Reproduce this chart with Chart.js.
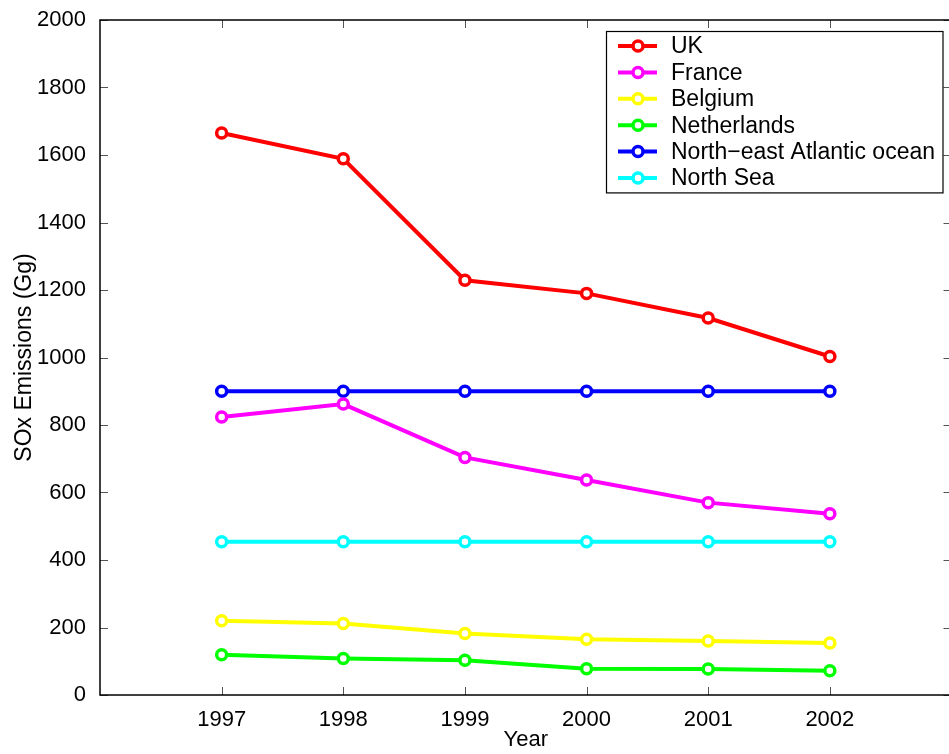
<!DOCTYPE html>
<html>
<head>
<meta charset="utf-8">
<script src="https://cdn.jsdelivr.net/npm/chart.js@4.4.0/dist/chart.umd.min.js"></script>
<style>
  html, body { margin: 0; padding: 0; background: #fff; overflow: hidden; width: 949px; height: 754px; }
  #wrap { width: 960px; height: 754px; position: relative; }
  canvas { display: block; }
</style>
</head>
<body>
<div id="wrap"><canvas id="c" width="960" height="754"></canvas></div>
<script>
// SOx emissions per year (Gg)
const years = [1997, 1998, 1999, 2000, 2001, 2002];
const uk = [1665, 1589, 1229, 1190, 1117, 1003];
const france = [824, 862, 704, 637, 570, 537];
const belgium = [220, 212, 182, 165, 160, 154];
const netherlands = [119, 108, 103, 78, 77, 72];
const neAtlantic = [900, 900, 900, 900, 900, 900];
const northSea = [454, 454, 454, 454, 454, 454];

const seriesNames = ['UK', 'France', 'Belgium', 'Netherlands', 'North\u2212east Atlantic ocean', 'North Sea'];
const seriesColors = ['#ff0000', '#ff00ff', '#ffff00', '#00ff00', '#0000ff', '#00ffff'];
const seriesValues = [uk, france, belgium, netherlands, neAtlantic, northSea];

const xTickValues = [1997, 1998, 1999, 2000, 2001, 2002];
const yTickValues = [0, 200, 400, 600, 800, 1000, 1200, 1400, 1600, 1800, 2000];

const FONT = "'Liberation Sans', Arial, Helvetica, sans-serif";
const TICK_LEN = 8;

// Axes frame with inward tick marks on all four sides
const framePlugin = {
  id: 'frame',
  beforeDatasetsDraw(chart) {
    const { ctx, chartArea: { left, right, top, bottom }, scales: { x, y } } = chart;
    ctx.save();
    ctx.strokeStyle = '#555';
    ctx.lineWidth = 1;
    ctx.beginPath();
    x.ticks.forEach(t => {
      const px = Math.round(x.getPixelForValue(t.value)) + 0.5;
      ctx.moveTo(px, bottom); ctx.lineTo(px, bottom - TICK_LEN);
      ctx.moveTo(px, top); ctx.lineTo(px, top + TICK_LEN);
    });
    y.ticks.forEach(t => {
      const py = Math.round(y.getPixelForValue(t.value)) + 0.5;
      ctx.moveTo(left, py); ctx.lineTo(left + TICK_LEN, py);
      ctx.moveTo(right, py); ctx.lineTo(right - TICK_LEN, py);
    });
    ctx.stroke();
    ctx.strokeStyle = '#000';
    ctx.lineWidth = 1.5;
    ctx.strokeRect(left, top, right - left, bottom - top);
    ctx.restore();
  }
};

// Boxed legend in the upper right of the plot area
const boxLegendPlugin = {
  id: 'boxLegend',
  afterDraw(chart) {
    const { ctx, chartArea: { right, top } } = chart;
    const sets = chart.data.datasets;
    const boxRight = right - 9, boxTop = top + 11;
    const boxLeft = 606, rowH = 26.4;
    const boxBottom = boxTop + rowH * sets.length + 3;
    ctx.save();
    ctx.fillStyle = '#fff';
    ctx.fillRect(boxLeft, boxTop, boxRight - boxLeft, boxBottom - boxTop);
    ctx.strokeStyle = '#000';
    ctx.lineWidth = 1.2;
    ctx.strokeRect(boxLeft + 0.5, boxTop + 0.5, boxRight - boxLeft, boxBottom - boxTop);
    ctx.font = '23px ' + FONT;
    ctx.textBaseline = 'middle';
    ctx.textAlign = 'left';
    sets.forEach((ds, i) => {
      const cy = boxTop + 15 + i * rowH;
      ctx.strokeStyle = ds.borderColor;
      ctx.lineWidth = ds.borderWidth;
      ctx.beginPath();
      ctx.moveTo(618, cy); ctx.lineTo(657, cy);
      ctx.stroke();
      ctx.beginPath();
      ctx.arc(638, cy, ds.pointRadius, 0, Math.PI * 2);
      ctx.fillStyle = '#fff';
      ctx.fill();
      ctx.lineWidth = ds.pointBorderWidth;
      ctx.stroke();
      ctx.fillStyle = '#000';
      ctx.fillText(ds.label, 671, cy + 1);
    });
    ctx.restore();
  }
};

const datasets = seriesNames.map((name, i) => ({
  label: name,
  data: years.map((yr, j) => ({ x: yr, y: seriesValues[i][j] })),
  borderColor: seriesColors[i],
  backgroundColor: '#ffffff',
  borderWidth: 4,
  pointRadius: 5,
  pointBorderWidth: 3.5,
  pointBackgroundColor: '#ffffff',
  pointBorderColor: seriesColors[i],
  tension: 0,
  fill: false
}));

new Chart(document.getElementById('c'), {
  type: 'line',
  data: { datasets },
  options: {
    responsive: false,
    animation: false,
    devicePixelRatio: 1,
    layout: { padding: { top: 20, right: 4, bottom: 0, left: 0 } },
    plugins: { legend: { display: false }, tooltip: { enabled: false } },
    scales: {
      x: {
        type: 'linear',
        min: 1996, max: 2003,
        afterBuildTicks: s => { s.ticks = xTickValues.map(v => ({ value: v })); },
        afterFit: s => { s.height = 59; },
        grid: { display: false },
        border: { display: false },
        ticks: { color: '#000', font: { family: FONT, size: 22 }, padding: 4, callback: v => String(v) },
        title: { display: true, text: 'Year', color: '#000', font: { family: FONT, size: 22 }, padding: { top: 0, bottom: 1 } }
      },
      y: {
        type: 'linear',
        min: 0, max: 2000,
        afterBuildTicks: s => { s.ticks = yTickValues.map(v => ({ value: v })); },
        afterFit: s => { s.width = 100; },
        grid: { display: false },
        border: { display: false },
        ticks: { color: '#000', font: { family: FONT, size: 22 }, padding: 6, callback: v => String(v) },
        title: { display: true, text: 'SOx Emissions (Gg)', color: '#000', font: { family: FONT, size: 23 }, padding: { top: 11, bottom: 0 } }
      }
    }
  },
  plugins: [framePlugin, boxLegendPlugin]
});
</script>
</body>
</html>
